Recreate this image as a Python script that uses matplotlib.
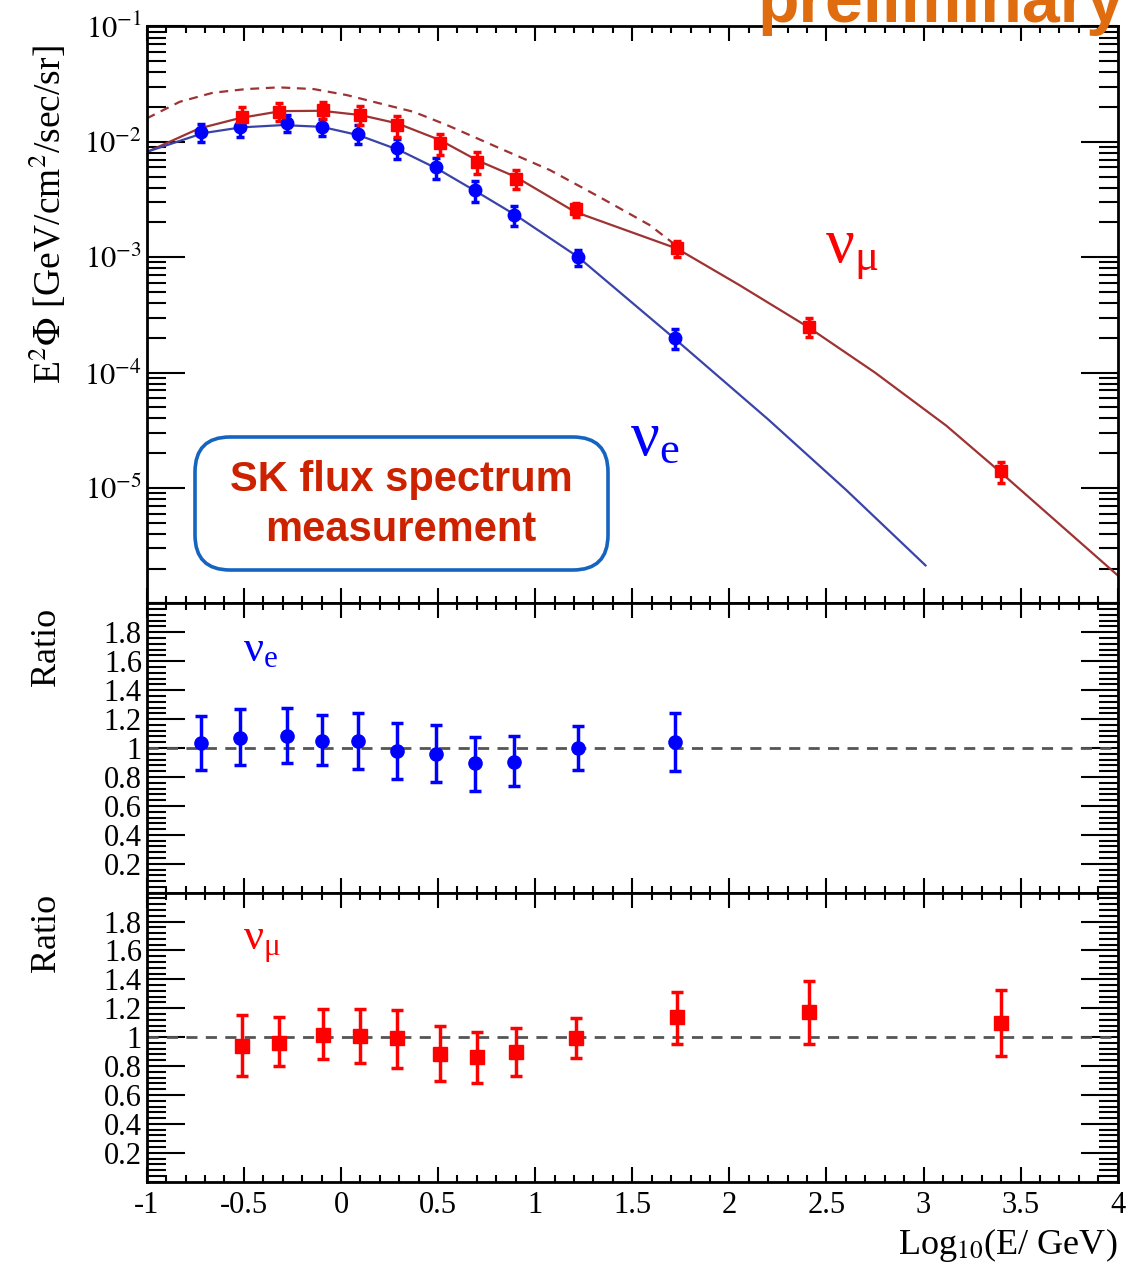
import numpy as np
import matplotlib
matplotlib.use("Agg")
import matplotlib.pyplot as plt
import matplotlib.ticker as ticker
from matplotlib import font_manager
from matplotlib.patches import FancyBboxPatch

plt.rcParams.update({
    "font.family": ["Liberation Serif", "DejaVu Serif"],
    "mathtext.fontset": "stix",
    "axes.linewidth": 2.0,
})

# ─── data ────────────────────────────────────────────────
# nu_e measured points (log10 E, E^2 Phi) and data/MC ratio
VE_X = np.array([-0.72, -0.52, -0.28, -0.10, 0.09, 0.29, 0.49, 0.69, 0.89, 1.22, 1.72])
VE_FLUX = np.array([0.0122, 0.0135, 0.0145, 0.0135, 0.0118, 0.0088, 0.0060, 0.0038, 0.0023, 0.0010, 2.0e-4])
VE_R = np.array([1.035, 1.07, 1.08, 1.05, 1.046, 0.977, 0.958, 0.896, 0.907, 1.0, 1.04])
VE_HI = np.array([1.22, 1.267, 1.274, 1.227, 1.244, 1.174, 1.16, 1.077, 1.086, 1.151, 1.244])
VE_LO = np.array([0.845, 0.88, 0.90, 0.88, 0.856, 0.787, 0.763, 0.705, 0.738, 0.845, 0.838])

# nu_mu measured points
MU_X = np.array([-0.51, -0.32, -0.09, 0.10, 0.29, 0.51, 0.70, 0.90, 1.21, 1.73, 2.41, 3.40])
MU_FLUX = np.array([0.0165, 0.0182, 0.0188, 0.0171, 0.0140, 0.0097, 0.0067, 0.0048, 0.0026, 0.0012, 2.5e-4, 1.4e-5])
MU_R = np.array([0.942, 0.958, 1.016, 1.007, 0.993, 0.884, 0.861, 0.90, 0.995, 1.137, 1.171, 1.096])
MU_HI = np.array([1.151, 1.139, 1.193, 1.193, 1.186, 1.074, 1.039, 1.063, 1.132, 1.31, 1.389, 1.325])
MU_LO = np.array([0.733, 0.798, 0.849, 0.819, 0.784, 0.698, 0.682, 0.733, 0.856, 0.954, 0.954, 0.867])

# prediction curves (log10 E, log10 E^2 Phi)
VE_CURVE_X = [-1.0, -0.71, -0.515, -0.3, -0.1, 0.09, 0.3, 0.5, 0.7, 0.9, 1.22, 1.71, 2.2, 2.6, 3.01]
VE_CURVE_LOG = [-2.087, -1.925, -1.875, -1.855, -1.870, -1.942, -2.072, -2.237, -2.434, -2.636,
                -2.997, -3.694, -4.406, -5.015, -5.671]

MU_CURVE_X = [-1.0, -0.73, -0.52, -0.31, -0.1, 0.1, 0.29, 0.51, 0.70, 0.90, 1.205, 1.73,
              2.05, 2.405, 2.75, 3.117, 3.385, 4.0]
MU_CURVE_LOG = [-2.089, -1.884, -1.794, -1.734, -1.731, -1.768, -1.840, -1.985, -2.159, -2.304,
                -2.607, -2.925, -3.24, -3.605, -4.0, -4.46, -4.847, -5.758]

MU_DASH_X = [-1.0, -0.83, -0.66, -0.49, -0.32, -0.14, 0.03, 0.20, 0.374, 0.546, 0.80, 1.076,
             1.33, 1.59, 1.75]
MU_DASH_LOG = [-1.797, -1.653, -1.575, -1.543, -1.528, -1.543, -1.595, -1.667, -1.740, -1.855,
               -2.043, -2.245, -2.477, -2.722, -2.93]

BLUE = "#0000FF"
RED = "#FF0000"
BLUE_LINE = "#3A44A8"
RED_LINE = "#9E3333"


def style_axis(ax):
    ax.set_xlim(-1, 4)
    ax.xaxis.set_major_locator(ticker.MultipleLocator(0.5))
    ax.xaxis.set_minor_locator(ticker.MultipleLocator(0.1))
    ax.tick_params(which="both", direction="in", top=True, right=True, width=1.5)
    ax.tick_params(axis="x", which="major", length=11)
    ax.tick_params(axis="x", which="minor", length=5)
    ax.tick_params(axis="y", which="major", length=27)
    ax.tick_params(axis="y", which="minor", length=14)
    ax.tick_params(labelsize=22)


fig = plt.figure(figsize=(11.43, 12.71), dpi=100)
ax_top = fig.add_axes([0.1284, 0.5253, 0.8495, 0.4539])
ax_e = fig.add_axes([0.1284, 0.2976, 0.8495, 0.2277])
ax_mu = fig.add_axes([0.1284, 0.0703, 0.8495, 0.2274])

# ─── top: flux ───────────────────────────────────────────
ax_top.set_yscale("log")
ax_top.plot(MU_DASH_X, 10 ** np.array(MU_DASH_LOG), color=RED_LINE, lw=1.6, dashes=(4, 3))
ax_top.plot(MU_CURVE_X, 10 ** np.array(MU_CURVE_LOG), color=RED_LINE, lw=1.6)
ax_top.plot(VE_CURVE_X, 10 ** np.array(VE_CURVE_LOG), color=BLUE_LINE, lw=1.6)

ax_top.errorbar(VE_X, VE_FLUX,
                yerr=[VE_FLUX * (VE_R - VE_LO) / VE_R, VE_FLUX * (VE_HI - VE_R) / VE_R],
                fmt="o", color=BLUE, ms=9, elinewidth=2.5, capsize=3, capthick=2.5)
ax_top.errorbar(MU_X, MU_FLUX,
                yerr=[MU_FLUX * (MU_R - MU_LO) / MU_R, MU_FLUX * (MU_HI - MU_R) / MU_R],
                fmt="s", color=RED, ms=8, elinewidth=2.5, capsize=3, capthick=2.5)

ax_top.set_ylim(1e-6, 1e-1)
style_axis(ax_top)
ax_top.yaxis.set_major_locator(ticker.LogLocator(base=10, numticks=10))
ax_top.yaxis.set_minor_locator(ticker.LogLocator(base=10, subs=np.arange(2, 10), numticks=20))
ax_top.yaxis.set_minor_formatter(ticker.NullFormatter())
ax_top.yaxis.set_major_formatter(ticker.FuncFormatter(
    lambda v, p: "" if v < 5e-6 else r"$10^{%d}$" % round(np.log10(v))))
ax_top.tick_params(axis="x", labelbottom=False)

ax_top.text(0.698, 0.592, r"ν$_{\mathdefault{μ}}$", transform=ax_top.transAxes, color=RED,
            fontsize=46, ha="left", va="baseline")
ax_top.text(0.4976, 0.257, r"ν$_{\mathdefault{e}}$", transform=ax_top.transAxes, color=BLUE,
            fontsize=46, ha="left", va="baseline")

# ─── ratio panels ────────────────────────────────────────
for ax, x, r, hi, lo, col, mk, lab in [
    (ax_e, VE_X, VE_R, VE_HI, VE_LO, BLUE, "o", r"ν$_{\mathdefault{e}}$"),
    (ax_mu, MU_X, MU_R, MU_HI, MU_LO, RED, "s", r"ν$_{\mathdefault{μ}}$"),
]:
    ax.axhline(1.0, color="#555555", lw=2, dashes=(4, 3))
    ax.errorbar(x, r, yerr=[r - lo, hi - r], fmt=mk, color=col, ms=9.5,
                elinewidth=2.5, capsize=4, capthick=2.5)
    ax.set_ylim(0, 2)
    style_axis(ax)
    ax.yaxis.set_major_locator(ticker.FixedLocator([0.2, 0.4, 0.6, 0.8, 1.0, 1.2, 1.4, 1.6, 1.8]))
    ax.yaxis.set_minor_locator(ticker.MultipleLocator(0.04))
    ax.yaxis.set_major_formatter(ticker.FuncFormatter(lambda v, p: "%g" % round(v, 1)))
    ax.text(0.099, 0.80, lab, transform=ax.transAxes, color=col, fontsize=32,
            ha="left", va="baseline")

ax_e.tick_params(axis="x", labelbottom=False)
ax_mu.xaxis.set_major_formatter(ticker.FuncFormatter(lambda v, p: "%g" % v))
ax_mu.tick_params(axis="x", pad=7)

# ─── labels ──────────────────────────────────────────────
fig.text(48 / 1143, 1 - 215 / 1271, r"E$^{2}\Phi$ [GeV/cm$^{2}$/sec/sr]", rotation=90,
         ha="center", va="center", fontsize=27)
fig.text(46 / 1143, 1 - 647 / 1271, "Ratio", rotation=90, ha="center", va="center", fontsize=26)
fig.text(46 / 1143, 1 - 933 / 1271, "Ratio", rotation=90, ha="center", va="center", fontsize=26)
fig.text(1117 / 1143, 1 - 1245 / 1271, r"Log$_{10}$(E/ GeV)", ha="right", va="center",
         fontsize=26)

# SK box
box = FancyBboxPatch((1.95, (1271 - 570) / 100), 4.13, 1.33,
                     boxstyle="round,pad=0,rounding_size=0.35",
                     transform=fig.dpi_scale_trans, fc="white", ec="#1565C0", lw=2.6,
                     zorder=5)
fig.add_artist(box)
fig.text(401 / 1143, 1 - 505 / 1271, "SK flux spectrum\nmeasurement", ha="center", va="center",
         fontsize=30, fontweight="bold", color="#CC2200", family="Liberation Sans",
         linespacing=1.3, zorder=6)

# preliminary (cut off at the top, as in the original slide)
try:
    font_manager.findfont("Liberation Sans Narrow", fallback_to_default=False)
    pre_family, pre_size = "Liberation Sans Narrow", 60
except Exception:
    pre_family, pre_size = "Liberation Sans", 49
fig.text(1125 / 1143, 1 - 22 / 1271, "preliminary", ha="right", va="baseline",
         fontsize=pre_size, fontweight="bold", color="#E06C10", family=pre_family)

fig.savefig("out.png", dpi=100)
